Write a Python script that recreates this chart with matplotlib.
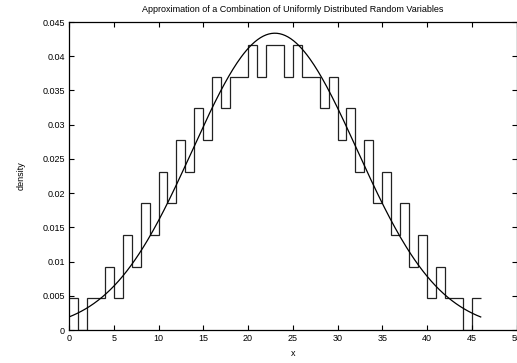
import numpy as np
import matplotlib
matplotlib.use("Agg")
import matplotlib.pyplot as plt

plt.rcParams['font.family'] = ['Liberation Sans', 'DejaVu Sans']

# bin edges 0..46, width 1 ; counts out of 216 outcomes
edges = list(range(0, 47))
counts = [1, 0, 1, 1, 2, 1, 3, 2, 4, 3,
          5, 4, 6, 5, 7, 6, 8, 7, 8, 8,
          9, 8, 9, 9, 8, 9, 8, 8, 7, 8,
          6, 7, 5, 6, 4, 5, 3, 4, 2, 3,
          1, 2, 1, 1, 0, 1]
n_total = 216

# normal approximation
mu = 23.0
sigma = 9.2

xticks = [0, 5, 10, 15, 20, 25, 30, 35, 40, 45, 50]
yticks = [0, 0.005, 0.01, 0.015, 0.02, 0.025, 0.03, 0.035, 0.04, 0.045]
ytick_labels = ['0', '0.005', '0.01', '0.015', '0.02', '0.025', '0.03', '0.035', '0.04', '0.045']

density = np.array(counts) / n_total

fig = plt.figure(figsize=(5.17, 3.63), dpi=100)
ax = fig.add_axes([69 / 517, 33 / 363, 447.5 / 517, 308 / 363])

ax.stairs(density, edges, baseline=None, color='#222222', linewidth=0.9)

xs = np.linspace(0, 46, 300)
pdf = np.exp(-(xs - mu) ** 2 / (2 * sigma ** 2)) / (sigma * np.sqrt(2 * np.pi))
ax.plot(xs, pdf, color='black', linewidth=0.9)

ax.set_xlim(0, 50)
ax.set_ylim(0, 0.045)
ax.set_xticks(xticks)
ax.set_yticks(yticks)
ax.set_yticklabels(ytick_labels)
ax.tick_params(direction='in', length=3.3, width=0.8, labelsize=6.5,
               top=True, right=True, pad=3)
for s in ax.spines.values():
    s.set_linewidth(0.9)

ax.set_xlabel('x', fontsize=6.5, labelpad=4)
ax.set_ylabel('density', fontsize=6.5, labelpad=12)
ax.set_title('Approximation of a Combination of Uniformly Distributed Random Variables',
             fontsize=6.5, pad=7)

fig.savefig('out.png', dpi=100)
